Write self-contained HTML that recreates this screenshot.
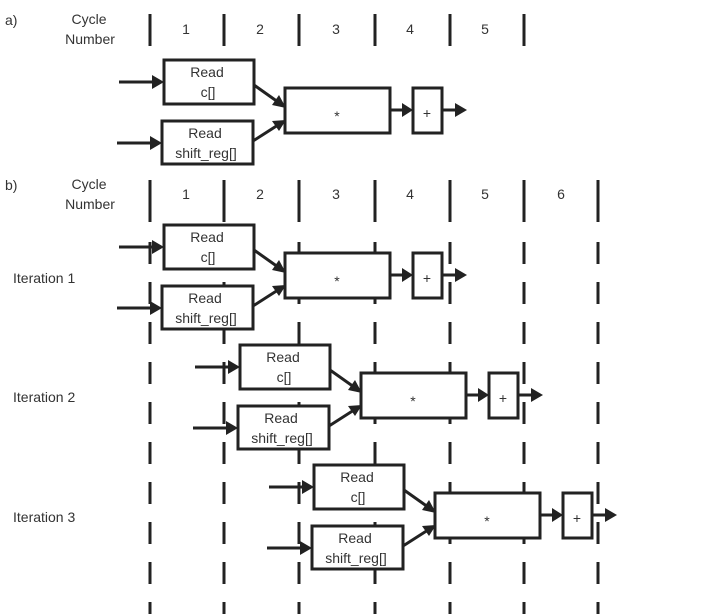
<!DOCTYPE html>
<html><head><meta charset="utf-8"><style>
html,body{margin:0;padding:0;background:#fff;}
svg{display:block;}
text{font-family:"Liberation Sans","DejaVu Sans",sans-serif;fill:#333;font-size:14px;}
</style></head><body>
<svg width="704" height="614" viewBox="0 0 704 614" xmlns="http://www.w3.org/2000/svg">
<defs>
<g id="blk">
  <line x1="119" y1="247" x2="156" y2="247" stroke="#222" stroke-width="3"/>
  <polygon points="152,240 164,247 152,254" fill="#222"/>
  <line x1="117" y1="308" x2="154" y2="308" stroke="#222" stroke-width="3"/>
  <polygon points="150,301 162,308 150,315" fill="#222"/>
  <rect x="164" y="225" width="90" height="44" fill="#fff" stroke="#222" stroke-width="3"/>
  <rect x="162" y="286" width="91" height="43" fill="#fff" stroke="#222" stroke-width="3"/>
  <text x="207" y="242" text-anchor="middle">Read</text>
  <text x="208" y="262" text-anchor="middle">c[]</text>
  <text x="205" y="303" text-anchor="middle">Read</text>
  <text x="206" y="323" text-anchor="middle">shift_reg[]</text>
  <line x1="254" y1="250" x2="278" y2="267" stroke="#222" stroke-width="3"/>
  <polygon points="286,273 272,270 279,260" fill="#222"/>
  <line x1="253" y1="306" x2="278" y2="290" stroke="#222" stroke-width="3"/>
  <polygon points="286,285 279,296 272,286" fill="#222"/>
  <rect x="285" y="253" width="105" height="45" fill="#fff" stroke="#222" stroke-width="3"/>
  <text x="337" y="286" text-anchor="middle" font-size="18">*</text>
  <line x1="390" y1="275" x2="405" y2="275" stroke="#222" stroke-width="3"/>
  <polygon points="402,268 413,275 402,282" fill="#222"/>
  <rect x="413" y="253" width="29" height="45" fill="#fff" stroke="#222" stroke-width="3"/>
  <text x="427" y="283" text-anchor="middle" font-size="22">+</text>
  <line x1="442" y1="275" x2="458" y2="275" stroke="#222" stroke-width="3"/>
  <polygon points="455,268 467,275 455,282" fill="#222"/>
</g>
</defs>
<!-- a header -->
<text x="5" y="25">a)</text>
<text x="89" y="24" text-anchor="middle">Cycle</text>
<text x="90" y="44" text-anchor="middle">Number</text>
<g stroke="#222" stroke-width="3">
<line x1="150" y1="14" x2="150" y2="46"/><line x1="224" y1="14" x2="224" y2="46"/>
<line x1="299" y1="14" x2="299" y2="46"/><line x1="375" y1="14" x2="375" y2="46"/>
<line x1="450" y1="14" x2="450" y2="46"/><line x1="524" y1="14" x2="524" y2="46"/>
</g>
<text x="186" y="34" text-anchor="middle">1</text><text x="260" y="34" text-anchor="middle">2</text>
<text x="336" y="34" text-anchor="middle">3</text><text x="410" y="34" text-anchor="middle">4</text>
<text x="485" y="34" text-anchor="middle">5</text>
<g transform="translate(0,-165)"><use href="#blk"/></g>
<!-- b header -->
<text x="5" y="190">b)</text>
<text x="89" y="189" text-anchor="middle">Cycle</text>
<text x="90" y="209" text-anchor="middle">Number</text>
<g stroke="#222" stroke-width="3">
<line x1="150" y1="180" x2="150" y2="222"/><line x1="224" y1="180" x2="224" y2="222"/>
<line x1="299" y1="180" x2="299" y2="222"/><line x1="375" y1="180" x2="375" y2="222"/>
<line x1="450" y1="180" x2="450" y2="222"/><line x1="524" y1="180" x2="524" y2="222"/>
<line x1="598" y1="180" x2="598" y2="222"/>
</g>
<g stroke="#222" stroke-width="3" stroke-dasharray="22 18">
<line x1="150" y1="242" x2="150" y2="614"/><line x1="224" y1="242" x2="224" y2="614"/>
<line x1="299" y1="242" x2="299" y2="614"/><line x1="375" y1="242" x2="375" y2="614"/>
<line x1="450" y1="242" x2="450" y2="614"/><line x1="524" y1="242" x2="524" y2="614"/>
<line x1="598" y1="242" x2="598" y2="614"/>
</g>
<text x="186" y="199" text-anchor="middle">1</text><text x="260" y="199" text-anchor="middle">2</text>
<text x="336" y="199" text-anchor="middle">3</text><text x="410" y="199" text-anchor="middle">4</text>
<text x="485" y="199" text-anchor="middle">5</text><text x="561" y="199" text-anchor="middle">6</text>
<text x="13" y="283">Iteration 1</text>
<text x="13" y="402">Iteration 2</text>
<text x="13" y="522">Iteration 3</text>
<use href="#blk"/>
<g transform="translate(76,120)"><use href="#blk"/></g>
<g transform="translate(150,240)"><use href="#blk"/></g>
</svg>
</body></html>
